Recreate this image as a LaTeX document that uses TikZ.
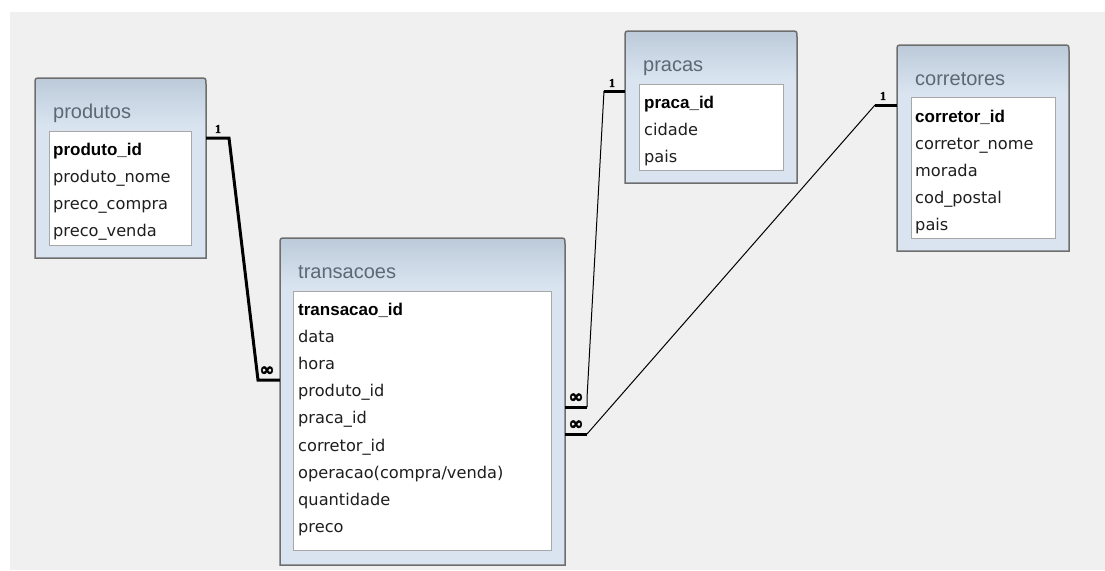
\documentclass[tikz,border=0pt]{standalone}
\usepackage{fontspec}
\setmainfont{Liberation Sans}
\newfontfamily\symfont[FakeBold=2.5]{DejaVu Sans}
\newfontfamily\onefont[FakeBold=1.5]{Liberation Serif}
\newfontfamily\fieldfont{DejaVu Sans}
\usetikzlibrary{fit}
\definecolor{bggray}{HTML}{F0F0F0}
\definecolor{framecol}{HTML}{6E6E6E}
\definecolor{hdtop}{HTML}{BCCAD9}
\definecolor{hdbot}{HTML}{D9E4F0}
\definecolor{listborder}{HTML}{A8A8A8}
\definecolor{titlecol}{HTML}{5C6873}
\definecolor{fieldcol}{HTML}{1E1E1E}
\tikzset{
  framestyle/.style={draw=framecol, line width=1.5pt},
  listbox/.style={fill=white, draw=listborder, line width=1pt},
  tabtitle/.style={anchor=base west, inner sep=0pt, text=titlecol, font=\fontsize{20}{24}\selectfont},
  field/.style={anchor=base west, inner sep=0pt, text=fieldcol, font=\fieldfont\fontsize{16.2}{20}\selectfont},
  keyfield/.style={anchor=base west, inner sep=0pt, text=black, font=\fontsize{17}{20}\selectfont\bfseries},
  relthin/.style={draw=black, line width=1pt},
  relthick/.style={draw=black, line width=3pt},
  onelabel/.style={inner sep=0pt, font=\onefont\fontsize{12}{12}\selectfont\bfseries},
  manylabel/.style={inner sep=0pt, font=\symfont\fontsize{18}{18}\selectfont\bfseries},
}
\newcommand{\dbtable}[6]{%
  \node[inner sep=0pt, fit={(#2,#3)(#4,#5)}] (#1) {};
  \begin{scope}
    \clip (#2,#5) -- (#2,#3+6) .. controls (#2,#3) .. (#2+6,#3) -- (#4-6,#3) .. controls (#4,#3) .. (#4,#3+6) -- (#4,#5) -- cycle;
    \fill[hdbot] (#2,#3) rectangle (#4,#5);
    \shade[top color=hdtop, bottom color=hdbot] (#2,#3) rectangle (#4,#3+48);
  \end{scope}
  \draw[framestyle] (#2,#5) -- (#2,#3+6) .. controls (#2,#3) .. (#2+6,#3) -- (#4-6,#3) .. controls (#4,#3) .. (#4,#3+6) -- (#4,#5) -- cycle;
  \node[tabtitle] (#1-title) at (#2+18,#3+40) {#6};
}
\begin{document}
\begin{tikzpicture}[x=1pt,y=-1pt]
\useasboundingbox (0,0) rectangle (1105,570);
\fill[white] (0,0) rectangle (1105,570);
\fill[bggray] (10,12) rectangle (1105,570);

% produtos
\dbtable{produtos}{35}{78}{206}{258}{produtos}
\draw[listbox] (49,131) rectangle (191,245);
\node[keyfield] (produtos-f1) at (53,155) {produto\_id};
\node[field] (produtos-f2) at (53,182) {produto\_nome};
\node[field] (produtos-f3) at (53,209) {preco\_compra};
\node[field] (produtos-f4) at (53,236.5) {preco\_venda};

% transacoes
\dbtable{transacoes}{280}{238}{565}{565}{transacoes}
\draw[listbox] (293,291) rectangle (551,550);
\node[keyfield] (transacoes-f1) at (298,315) {transacao\_id};
\node[field] (transacoes-f2) at (298,342.2) {data};
\node[field] (transacoes-f3) at (298,369.4) {hora};
\node[field] (transacoes-f4) at (298,396.6) {produto\_id};
\node[field] (transacoes-f5) at (298,423.8) {praca\_id};
\node[field] (transacoes-f6) at (298,451) {corretor\_id};
\node[field] (transacoes-f7) at (298,478.2) {operacao(compra/venda)};
\node[field] (transacoes-f8) at (298,505.4) {quantidade};
\node[field] (transacoes-f9) at (298,532.6) {preco};

% pracas
\dbtable{pracas}{625}{31}{797}{183}{pracas}
\draw[listbox] (639,84) rectangle (783,170);
\node[keyfield] (pracas-f1) at (644,108) {praca\_id};
\node[field] (pracas-f2) at (644,135.2) {cidade};
\node[field] (pracas-f3) at (644,162.4) {pais};

% corretores
\dbtable{corretores}{897}{45}{1069}{251}{corretores}
\draw[listbox] (911,97) rectangle (1055,238);
\node[keyfield] (corretores-f1) at (915,122) {corretor\_id};
\node[field] (corretores-f2) at (915,149.2) {corretor\_nome};
\node[field] (corretores-f3) at (915,176.4) {morada};
\node[field] (corretores-f4) at (915,203.6) {cod\_postal};
\node[field] (corretores-f5) at (915,230.8) {pais};

% relationship produtos - transacoes
\draw[relthick, line join=miter] (produtos.east |- 0,138) -- (229,138) -- (258,380) -- (transacoes.west |- 0,380);
\node[onelabel] (l1) at (218,129) {1};
\node[manylabel] (m1) at (267,371) {∞};

% relationship pracas - transacoes
\draw[relthick] (pracas.west |- 0,91) -- (604,91);
\draw[relthin] (604,91) -- (587,398) -- (587,407);
\draw[relthick] (587,407) -- (transacoes.east |- 0,407);
\node[onelabel] (l2) at (612,83) {1};
\node[manylabel] (m2) at (576,398) {∞};

% relationship corretores - transacoes
\draw[relthick] (corretores.west |- 0,105) -- (875,105);
\draw[relthin] (875,105) -- (587,434);
\draw[relthick] (587,434) -- (transacoes.east |- 0,434);
\node[onelabel] (l3) at (883,96) {1};
\node[manylabel] (m3) at (576,425) {∞};
\end{tikzpicture}
\end{document}
